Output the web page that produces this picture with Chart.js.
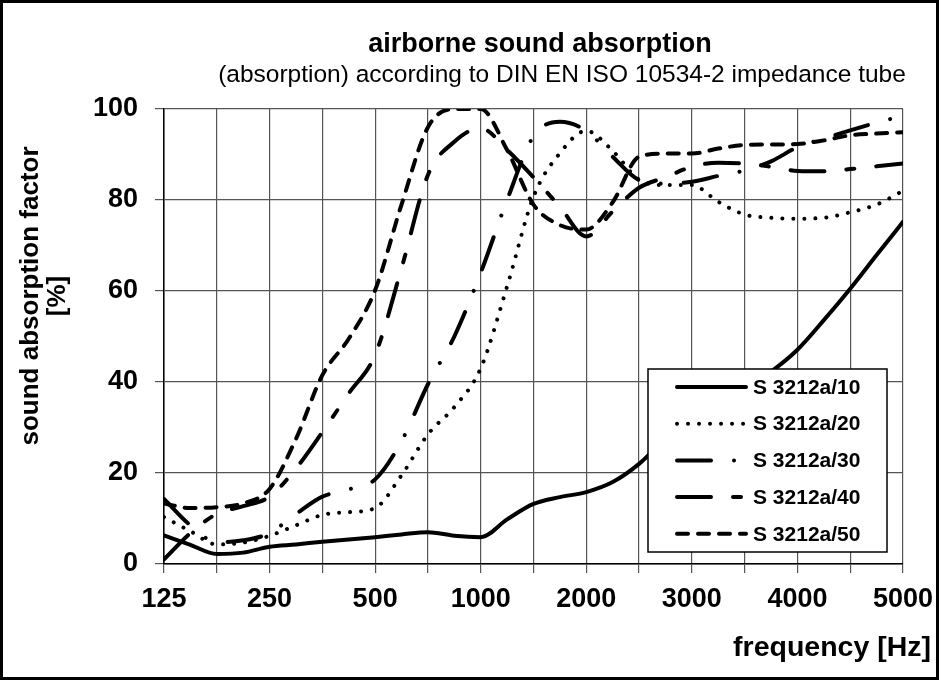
<!DOCTYPE html>
<html>
<head>
<meta charset="utf-8">
<title>airborne sound absorption</title>
<script src="https://cdn.jsdelivr.net/npm/chart.js@4.4.1/dist/chart.umd.min.js"></script>
<style>
  html, body { margin: 0; padding: 0; background: #fff; }
  #wrap { width: 939px; height: 680px; }
</style>
</head>
<body>
<div id="wrap"><canvas id="absChart" width="939" height="680"></canvas></div>
<script>
// x positions are third-octave band steps (0 = 125 Hz ... 14 = 5000 Hz), read every half step
const bandPos = [0, 0.5, 1, 1.5, 2, 2.5, 3, 3.5, 4, 4.5, 5, 5.5, 6, 6.5, 7, 7.5,
                 8, 8.5, 9, 9.5, 10, 10.5, 11, 11.5, 12, 12.5, 13, 13.5, 14];
const freqLabels = ['125', '', '250', '', '500', '', '1000', '', '2000', '', '3000', '', '4000', '', '5000'];
const yTicks = [0, 20, 40, 60, 80, 100];

const seriesNames = ['S 3212a/10', 'S 3212a/20', 'S 3212a/30', 'S 3212a/40', 'S 3212a/50'];
const s10 = [6.3, 4.2, 2.2, 2.5, 3.8, 4.3, 4.9, 5.4, 5.9, 6.5, 7.0, 6.2, 5.9, 9.8, 13.2, 14.7,
             15.8, 18.0, 22.0, 27.5, 31.5, 35.0, 38.7, 42.3, 47.1, 53.6, 60.5, 67.9, 75.2];
const s20 = [10.3, 7.2, 4.3, 4.7, 6.2, 8.5, 10.8, 11.4, 12.3, 19.5, 28.5, 34.5, 43.0, 61.0, 80.7, 90.3,
             95.2, 90.8, 84.5, 83.3, 83.3, 79.6, 76.8, 76.1, 75.9, 76.1, 77.3, 79.0, 82.0];
const s30 = [14.3, 8.5, 4.8, 5.2, 6.8, 11.0, 14.8, 16.4, 18.6, 27.0, 39.5, 50.0, 64.0, 80.0, 94.0, 97.2,
             95.2, 89.5, 84.4, 83.6, 84.0, 85.3, 86.5, 88.5, 91.6, 93.5, 95.3, 97.0, 98.5];
const s40 = [1.0, 6.8, 11.0, 12.7, 14.8, 21.0, 29.0, 37.5, 46.0, 65.0, 85.5, 92.8, 95.8, 91.0, 85.0, 78.5,
             72.0, 77.5, 82.7, 85.0, 87.3, 88.2, 88.0, 87.3, 86.4, 86.3, 86.8, 87.4, 88.0];
const s50 = [13.3, 12.3, 12.5, 13.3, 16.5, 27.5, 41.5, 49.5, 60.2, 79.0, 96.0, 100, 100, 91.0, 79.0, 74.5,
             73.5, 79.5, 89.5, 90.2, 90.2, 91.3, 92.1, 92.2, 92.3, 93.1, 94.2, 94.6, 94.9];

const seriesValues = [s10, s20, s30, s40, s50];
const dashes = [[], [0.01, 11], [34, 23, 0.01, 23], [34, 22, 8, 22], [11, 10]];

const FONT = '"Liberation Sans", Arial, sans-serif';
Chart.defaults.font.family = FONT;
Chart.defaults.color = '#000';

const datasets = seriesNames.map((name, i) => ({
  label: name,
  data: bandPos.map((x, j) => ({ x: x, y: seriesValues[i][j] })),
  borderColor: '#000',
  borderWidth: 4,
  borderDash: dashes[i],
  borderCapStyle: 'round',
  borderJoinStyle: 'round',
  pointRadius: 0,
  cubicInterpolationMode: 'monotone',
  fill: false
}));

// titles, axis titles, boxed legend and frame
const overlay = {
  id: 'overlay',
  afterDatasetsDraw(chart) {
    const c = chart.ctx;
    c.save();
    const bx = 648, by = 369, bw = 239, bh = 183;
    c.fillStyle = '#fff';
    c.fillRect(bx, by, bw, bh);
    c.strokeStyle = '#000';
    c.lineWidth = 1.5;
    c.strokeRect(bx, by, bw, bh);
    chart.data.datasets.forEach((ds, i) => {
      const y = by + 18 + i * 36.7;
      c.beginPath();
      c.setLineDash(ds.borderDash);
      c.lineCap = 'round';
      c.lineWidth = 4;
      c.moveTo(677, y);
      c.lineTo(746, y);
      c.stroke();
      c.setLineDash([]);
      c.fillStyle = '#000';
      c.font = 'bold 21px ' + FONT;
      c.textAlign = 'left';
      c.textBaseline = 'middle';
      c.fillText(ds.label, 753, y + 1);
    });
    c.restore();
  },
  afterDraw(chart) {
    const c = chart.ctx;
    c.save();
    c.fillStyle = '#000';
    c.textAlign = 'center';
    c.textBaseline = 'middle';
    c.font = 'bold 27px ' + FONT;
    c.fillText('airborne sound absorption', 540, 45);
    c.font = '24.5px ' + FONT;
    c.fillText('(absorption) according to DIN EN ISO 10534-2 impedance tube', 562, 75);

    c.font = 'bold 28.5px ' + FONT;
    c.textAlign = 'right';
    c.textBaseline = 'alphabetic';
    c.fillText('frequency [Hz]', 931, 656);

    c.translate(0, 296);
    c.rotate(-Math.PI / 2);
    c.textAlign = 'center';
    c.textBaseline = 'middle';
    c.font = 'bold 26px ' + FONT;
    c.fillText('sound absorption factor', 0, 31);
    c.fillText('[%]', 0, 58);
    c.restore();

    c.save();
    c.strokeStyle = '#000';
    c.lineWidth = 3;
    c.strokeRect(1.5, 1.5, 936, 677);
    c.restore();
  }
};

new Chart(document.getElementById('absChart'), {
  type: 'line',
  data: { datasets: datasets },
  options: {
    responsive: false,
    animation: false,
    devicePixelRatio: 1,
    layout: { padding: { left: 0, top: 109, right: 36, bottom: 0 } },
    plugins: {
      legend: { display: false },
      tooltip: { enabled: false }
    },
    scales: {
      x: {
        type: 'linear',
        min: 0,
        max: freqLabels.length - 1,
        afterFit: (s) => { s.height = 116; s.paddingLeft = 0; s.paddingRight = 0; },
        afterBuildTicks: (s) => { s.ticks = freqLabels.map((_, i) => ({ value: i })); },
        grid: { color: '#555', lineWidth: 1.2, tickLength: 9 },
        border: { color: '#000', width: 1.5 },
        ticks: {
          autoSkip: false,
          maxRotation: 0,
          padding: 10,
          font: { size: 27, weight: 'bold' },
          callback: (v) => freqLabels[v] || ''
        }
      },
      y: {
        min: 0,
        max: 100,
        afterFit: (s) => { s.width = 164; s.paddingTop = 0; s.paddingBottom = 0; },
        afterBuildTicks: (s) => { s.ticks = yTicks.map(v => ({ value: v })); },
        grid: { color: '#555', lineWidth: 1.2, tickLength: 9 },
        border: { color: '#000', width: 1.5 },
        ticks: {
          padding: 17,
          font: { size: 27, weight: 'bold' }
        }
      }
    }
  },
  plugins: [overlay]
});
</script>
</body>
</html>
